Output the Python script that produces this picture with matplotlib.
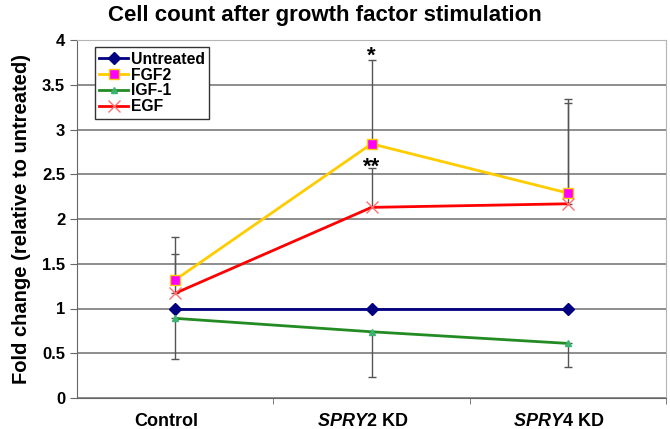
import numpy as np
import matplotlib.pyplot as plt
import matplotlib.transforms as mtransforms

plt.rcParams['font.family'] = ['Liberation Sans', 'DejaVu Sans']
plt.rcParams['mathtext.fontset'] = 'custom'
plt.rcParams['mathtext.it'] = 'Liberation Sans:italic:bold'
plt.rcParams['mathtext.rm'] = 'Liberation Sans:bold'

# data
categories = ['Control', r'$SPRY2$ KD', r'$SPRY4$ KD']
untreated = [1.0, 1.0, 1.0]
fgf2 = [1.32, 2.84, 2.29]
igf1 = [0.89, 0.74, 0.61]
egf = [1.17, 2.13, 2.17]
fgf2_err_up = [0.48, 0.94, 1.05]
egf_err_up = [0.44, 0.44, 1.13]
igf1_err_down = [0.45, 0.51, 0.26]
stars = ['*', '**']
star_y = [3.82, 2.58]

x = np.arange(len(categories))

fig = plt.figure(figsize=(6.7, 4.29), dpi=100)
ax = fig.add_axes([77 / 670, 31 / 429, 589 / 670, 358 / 429])

ebar = dict(fmt='none', ecolor='#555555', elinewidth=1, capsize=3, capthick=1, zorder=2)
ax.errorbar(x, fgf2, yerr=[np.zeros(3), fgf2_err_up], **ebar)
ax.errorbar(x, egf, yerr=[np.zeros(3), egf_err_up], **ebar)
ax.errorbar(x, igf1, yerr=[igf1_err_down, np.zeros(3)], **ebar)

ax.plot(x, untreated, color='#000080', lw=2, marker='D', ms=6,
        label='Untreated', zorder=3)
ax.plot(x, fgf2, color='#FFCC00', lw=2, marker='s', ms=7, mfc='#FF00FF',
        mec='#FFCC00', label='FGF2', zorder=3)
ax.plot(x, igf1, color='#228B22', lw=2, marker='^', ms=4, mfc='#3CB371',
        mec='#3CB371', label='IGF-1', zorder=3)
ax.plot(x, egf, color='#FF0000', lw=2, marker='x', ms=8, mec='#FF7070',
        mew=1, label='EGF', zorder=3)

for s, yy in zip(stars, star_y):
    ax.text(1, yy, s, ha='center', va='center', fontsize=16, fontweight='bold')

ax.set_xlim(-0.5, 2.5)
ax.set_ylim(0, 4)
ax.set_yticks(np.arange(0, 4.01, 0.5))
ax.set_yticklabels(['0', '0.5', '1', '1.5', '2', '2.5', '3', '3.5', '4'])
ax.set_xticks(x)
ax.set_xticklabels(categories)
ax.set_xticks([0.5, 1.5, 2.5], minor=True)
ax.tick_params(axis='x', which='major', length=0, pad=11, labelsize=13)
ax.tick_params(axis='x', which='minor', length=4, color='#666666', direction='out')
ax.tick_params(axis='y', length=5, color='#666666', labelsize=12)
for lab in ax.get_xticklabels() + ax.get_yticklabels():
    lab.set_fontweight('bold')
shift = mtransforms.ScaledTranslation(-9 / 100, 0, fig.dpi_scale_trans)
for lab in ax.get_xticklabels():
    lab.set_transform(lab.get_transform() + shift)
ax.grid(axis='y', color='#7a7a7a', lw=1.2)
ax.set_axisbelow(True)
ax.spines['top'].set_color('#b5b5b5')
ax.spines['right'].set_color('#b5b5b5')
ax.spines['left'].set_color('#666666')
ax.spines['bottom'].set_color('#666666')

ax.set_ylabel('Fold change (relative to untreated)', fontsize=14.5,
              fontweight='bold', labelpad=8)
fig.text(0.485, 0.965, 'Cell count after growth factor stimulation',
         ha='center', va='center', fontsize=16, fontweight='bold')

leg = ax.legend(loc='upper left', bbox_to_anchor=(0.03, 0.98), fancybox=False,
                edgecolor='#333333', framealpha=1, prop={'weight': 'bold', 'size': 11.3},
                handlelength=1.8, handletextpad=0.2, labelspacing=0.05,
                borderpad=0.3, borderaxespad=0)
leg.get_frame().set_linewidth(1)

fig.savefig('out.png', dpi=100)
